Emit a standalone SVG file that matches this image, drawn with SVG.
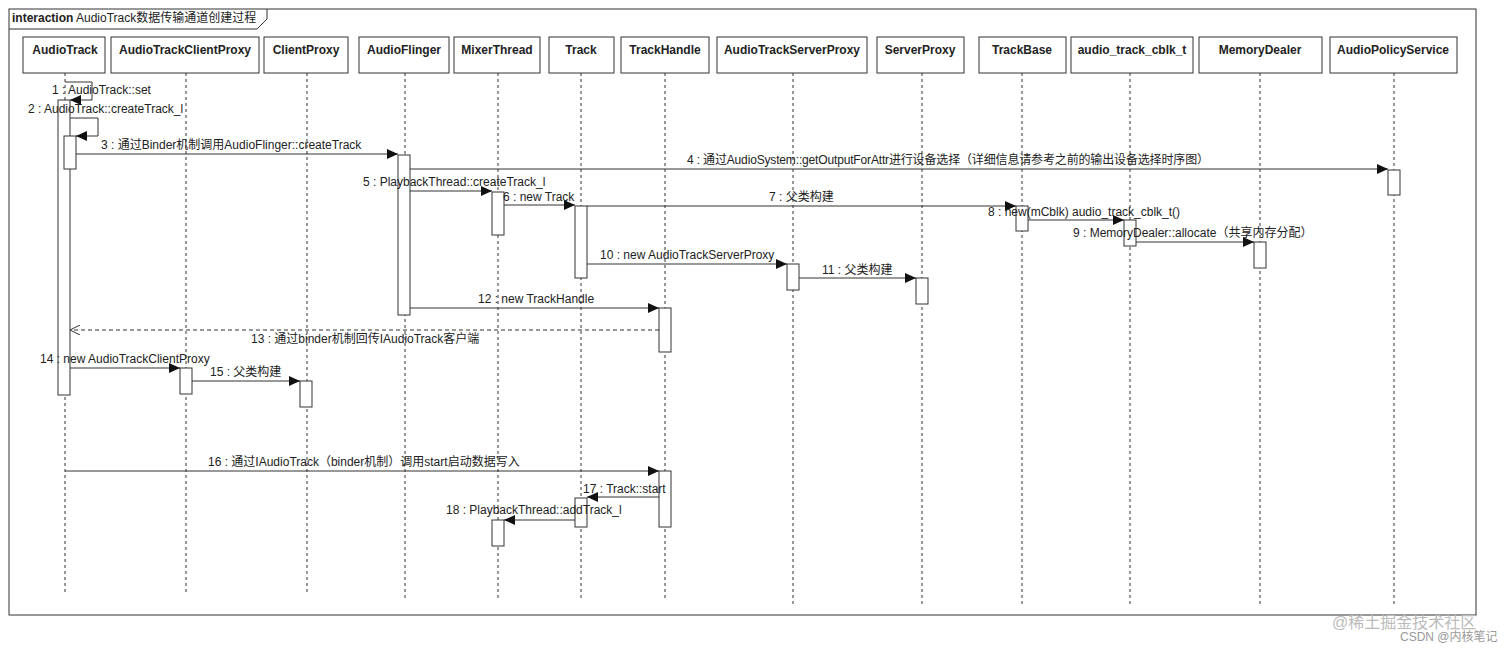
<svg xmlns="http://www.w3.org/2000/svg" width="1512" height="651" viewBox="0 0 1512 651">
<style>
text{font-family:"Liberation Sans","Noto Sans CJK SC",sans-serif;font-size:12px;fill:#222}
.h{font-weight:bold;text-anchor:middle}
.box{fill:#fff;stroke:#333;stroke-width:1}
.ll{stroke:#333;stroke-dasharray:3,3;fill:none}
.act{fill:#fff;stroke:#333}
.m{stroke:#333;fill:none}
.r{stroke:#333;fill:none;stroke-dasharray:4,3}
</style>
<defs>
<marker id="a" markerWidth="12" markerHeight="10" refX="11" refY="5" orient="auto" markerUnits="userSpaceOnUse"><path d="M0,0 L11,5 L0,10 Z" fill="#111"/></marker>
<marker id="o" markerWidth="12" markerHeight="10" refX="10" refY="5" orient="auto" markerUnits="userSpaceOnUse"><path d="M0,0 L10,5 L0,10" fill="none" stroke="#333"/></marker>
</defs>
<rect x="0" y="0" width="1512" height="651" fill="#fff"/>
<rect x="9" y="9" width="1467" height="606" fill="none" stroke="#333"/>
<path d="M9,29 H257 L267,19 V9" fill="none" stroke="#333"/>
<text x="12" y="22"><tspan font-weight="bold">interaction</tspan> AudioTrack数据传输通道创建过程</text>
<g id="lifelines">
<line class="ll" x1="65" y1="73" x2="65" y2="593"/>
<line class="ll" x1="186" y1="73" x2="186" y2="593"/>
<line class="ll" x1="307" y1="73" x2="307" y2="593"/>
<line class="ll" x1="405" y1="73" x2="405" y2="598"/>
<line class="ll" x1="498" y1="73" x2="498" y2="598"/>
<line class="ll" x1="581" y1="73" x2="581" y2="598"/>
<line class="ll" x1="665" y1="73" x2="665" y2="598"/>
<line class="ll" x1="793" y1="73" x2="793" y2="607"/>
<line class="ll" x1="922" y1="73" x2="922" y2="607"/>
<line class="ll" x1="1022" y1="73" x2="1022" y2="607"/>
<line class="ll" x1="1130" y1="73" x2="1130" y2="607"/>
<line class="ll" x1="1260" y1="73" x2="1260" y2="607"/>
<line class="ll" x1="1394" y1="73" x2="1394" y2="607"/>
</g>
<g id="n-AudioTrack"><rect class="box" x="23" y="37" width="82" height="36"/><text class="h" x="65" y="54">AudioTrack</text></g>
<g id="n-AudioTrackClientProxy"><rect class="box" x="111" y="37" width="148" height="36"/><text class="h" x="185" y="54">AudioTrackClientProxy</text></g>
<g id="n-ClientProxy"><rect class="box" x="264" y="37" width="84" height="36"/><text class="h" x="306" y="54">ClientProxy</text></g>
<g id="n-AudioFlinger"><rect class="box" x="359" y="37" width="90" height="36"/><text class="h" x="404" y="54">AudioFlinger</text></g>
<g id="n-MixerThread"><rect class="box" x="454" y="37" width="86" height="36"/><text class="h" x="497" y="54">MixerThread</text></g>
<g id="n-Track"><rect class="box" x="549" y="37" width="65" height="36"/><text class="h" x="581" y="54">Track</text></g>
<g id="n-TrackHandle"><rect class="box" x="621" y="37" width="88" height="36"/><text class="h" x="665" y="54">TrackHandle</text></g>
<g id="n-AudioTrackServerProxy"><rect class="box" x="717" y="37" width="150" height="36"/><text class="h" x="792" y="54">AudioTrackServerProxy</text></g>
<g id="n-ServerProxy"><rect class="box" x="877" y="37" width="87" height="36"/><text class="h" x="920" y="54">ServerProxy</text></g>
<g id="n-TrackBase"><rect class="box" x="979" y="37" width="87" height="36"/><text class="h" x="1022" y="54">TrackBase</text></g>
<g id="n-cblk"><rect class="box" x="1071" y="37" width="122" height="36"/><text class="h" x="1132" y="54">audio_track_cblk_t</text></g>
<g id="n-MemoryDealer"><rect class="box" x="1199" y="37" width="123" height="36"/><text class="h" x="1260" y="54">MemoryDealer</text></g>
<g id="n-AudioPolicyService"><rect class="box" x="1330" y="37" width="127" height="36"/><text class="h" x="1393" y="54">AudioPolicyService</text></g>
<g id="activations">
<rect class="act" x="58" y="100" width="12" height="295"/>
<rect class="act" x="64" y="136" width="12" height="33"/>
<rect class="act" x="398" y="155" width="12" height="160"/>
<rect class="act" x="1388" y="170" width="12" height="25"/>
<rect class="act" x="492" y="192" width="12" height="43"/>
<rect class="act" x="575" y="206" width="12" height="72"/>
<rect class="act" x="1016" y="206" width="12" height="25"/>
<rect class="act" x="1124" y="220" width="12" height="26"/>
<rect class="act" x="1254" y="242" width="12" height="26"/>
<rect class="act" x="787" y="264" width="12" height="26"/>
<rect class="act" x="916" y="278" width="12" height="26"/>
<rect class="act" x="659" y="308" width="12" height="44"/>
<rect class="act" x="180" y="368" width="12" height="26"/>
<rect class="act" x="300" y="381" width="12" height="26"/>
<rect class="act" x="659" y="471" width="12" height="56"/>
<rect class="act" x="575" y="498" width="12" height="29"/>
<rect class="act" x="492" y="520" width="12" height="26"/>
</g>
<g id="connectors">
<path class="m" d="M65,82 H92 V100 H70" marker-end="url(#a)"/>
<path class="m" d="M70,118 H98 V136 H76" marker-end="url(#a)"/>
<line class="m" x1="76" y1="154" x2="398" y2="154" marker-end="url(#a)"/>
<line class="m" x1="410" y1="169" x2="1388" y2="169" marker-end="url(#a)"/>
<line class="m" x1="410" y1="191" x2="492" y2="191" marker-end="url(#a)"/>
<line class="m" x1="504" y1="205" x2="575" y2="205" marker-end="url(#a)"/>
<line class="m" x1="587" y1="206" x2="1016" y2="206" marker-end="url(#a)"/>
<line class="m" x1="1028" y1="220" x2="1124" y2="220" marker-end="url(#a)"/>
<line class="m" x1="1136" y1="242" x2="1254" y2="242" marker-end="url(#a)"/>
<line class="m" x1="587" y1="264" x2="787" y2="264" marker-end="url(#a)"/>
<line class="m" x1="799" y1="278" x2="916" y2="278" marker-end="url(#a)"/>
<line class="m" x1="410" y1="308" x2="659" y2="308" marker-end="url(#a)"/>
<line class="r" x1="659" y1="330" x2="70" y2="330" marker-end="url(#o)"/>
<line class="m" x1="70" y1="368" x2="180" y2="368" marker-end="url(#a)"/>
<line class="m" x1="192" y1="381" x2="300" y2="381" marker-end="url(#a)"/>
<line class="m" x1="65" y1="471" x2="659" y2="471" marker-end="url(#a)"/>
<line class="m" x1="659" y1="497" x2="587" y2="497" marker-end="url(#a)"/>
<line class="m" x1="575" y1="520" x2="504" y2="520" marker-end="url(#a)"/>
<text x="52" y="94">1 : AudioTrack::set</text>
<text x="28" y="113">2 : AudioTrack::createTrack_l</text>
<text x="101" y="149">3 : 通过Binder机制调用AudioFlinger::createTrack</text>
<text x="687" y="164" textLength="522">4 : 通过AudioSystem::getOutputForAttr进行设备选择（详细信息请参考之前的输出设备选择时序图）</text>
<text x="363" y="186">5 : PlaybackThread::createTrack_l</text>
<text x="503" y="201">6 : new Track</text>
<text x="769" y="201">7 : 父类构建</text>
<text x="988" y="216">8 : new(mCblk) audio_track_cblk_t()</text>
<text x="1073" y="237">9 : MemoryDealer::allocate（共享内存分配）</text>
<text x="600" y="259">10 : new AudioTrackServerProxy</text>
<text x="822" y="274">11 : 父类构建</text>
<text x="478" y="303">12 : new TrackHandle</text>
<text x="251" y="343">13 : 通过binder机制回传IAudioTrack客户端</text>
<text x="40" y="363">14 : new AudioTrackClientProxy</text>
<text x="210" y="376">15 : 父类构建</text>
<text x="208" y="466">16 : 通过IAudioTrack（binder机制）调用start启动数据写入</text>
<text x="583" y="493">17 : Track::start</text>
<text x="446" y="514">18 : PlaybackThread::addTrack_l</text>
</g>
<text x="1332" y="628" style="font-size:16px;fill:#bbb">@稀土掘金技术社区</text>
<text x="1400" y="641" style="font-size:12px;fill:#999">CSDN @内核笔记</text>
</svg>
